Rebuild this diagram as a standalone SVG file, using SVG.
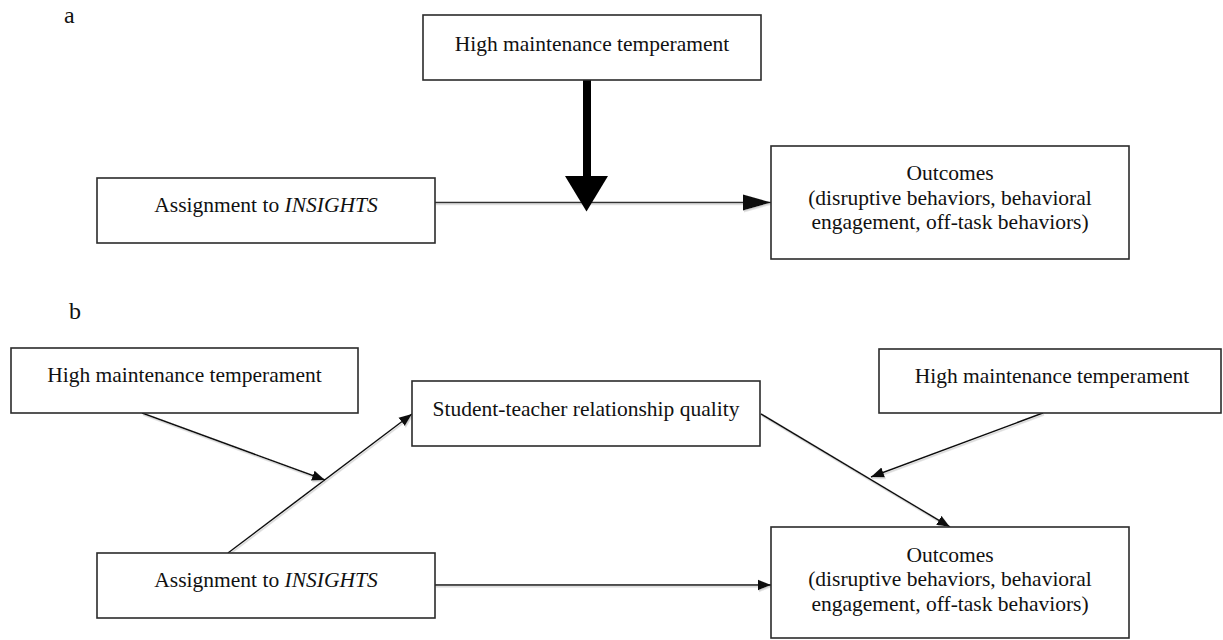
<svg xmlns="http://www.w3.org/2000/svg" width="1223" height="640" viewBox="0 0 1223 640">
<defs>
<style>
.box{fill:#fff;stroke:#2b2b2b;stroke-width:1.6}
.t{font-family:"Liberation Serif","Times New Roman",serif;font-size:21.5px;fill:#111;text-anchor:middle}
.lbl{font-family:"Liberation Serif","Times New Roman",serif;font-size:24px;fill:#111}
.ln{stroke:#111;stroke-width:1.5;fill:none}
.it{font-style:italic}
</style>
<marker id="ah" markerUnits="userSpaceOnUse" markerWidth="14" markerHeight="12" refX="13" refY="6" orient="auto">
<path d="M0,0.8 L13,6 L0,11.2 z" fill="#111"/>
</marker>
<marker id="ahBig" markerUnits="userSpaceOnUse" markerWidth="30" markerHeight="18" refX="28" refY="8.5" orient="auto">
<path d="M0,0.5 L28,8.5 L0,16.5 z" fill="#111"/>
</marker>
<filter id="sh" x="-5%" y="-5%" width="110%" height="120%">
<feDropShadow dx="1" dy="1.6" stdDeviation="0.7" flood-color="#b5b5b5" flood-opacity="0.6"/>
</filter>
</defs>
<rect width="1223" height="640" fill="#fff"/>

<text class="lbl" x="64" y="23">a</text>
<text class="lbl" x="69" y="319">b</text>

<g id="connectors">
<g filter="url(#sh)">
<line class="ln" x1="435" y1="202.5" x2="771" y2="202.5" marker-end="url(#ahBig)" style="stroke:#333;stroke-width:1.3"/>
<line class="ln" x1="142" y1="413" x2="325" y2="480" marker-end="url(#ah)"/>
<line class="ln" x1="228" y1="553" x2="412" y2="414" marker-end="url(#ah)"/>
<line class="ln" x1="761" y1="414" x2="950" y2="527" marker-end="url(#ah)"/>
<line class="ln" x1="1043" y1="413" x2="871" y2="477" marker-end="url(#ah)"/>
<line class="ln" x1="435" y1="585" x2="771" y2="585" marker-end="url(#ah)"/>
</g>
<rect x="583" y="80" width="8" height="97" fill="#000"/>
<polygon points="565,176 608,176 586.5,211.5" fill="#000"/>
</g>

<g id="a-hmt">
<rect class="box" x="423" y="15" width="338" height="65"/>
<text class="t" x="592" y="51">High maintenance temperament</text>
</g>
<g id="a-assign">
<rect class="box" x="97" y="178" width="338" height="65"/>
<text class="t" x="266" y="212">Assignment to <tspan class="it">INSIGHTS</tspan></text>
</g>
<g id="a-outcomes">
<rect class="box" x="771" y="146" width="358" height="113"/>
<text class="t" x="950" y="180">Outcomes</text>
<text class="t" x="950" y="204.5">(disruptive behaviors, behavioral</text>
<text class="t" x="950" y="229">engagement, off-task behaviors)</text>
</g>

<g id="b-hmt-left">
<rect class="box" x="11" y="348" width="347" height="65"/>
<text class="t" x="184.5" y="382">High maintenance temperament</text>
</g>
<g id="b-str">
<rect class="box" x="412" y="381" width="348" height="65"/>
<text class="t" x="586" y="416">Student-teacher relationship quality</text>
</g>
<g id="b-hmt-right">
<rect class="box" x="879" y="349" width="342" height="64"/>
<text class="t" x="1052" y="383">High maintenance temperament</text>
</g>
<g id="b-assign">
<rect class="box" x="97" y="553" width="338" height="65"/>
<text class="t" x="266" y="587">Assignment to <tspan class="it">INSIGHTS</tspan></text>
</g>
<g id="b-outcomes">
<rect class="box" x="771" y="527" width="358" height="111"/>
<text class="t" x="950" y="561.5">Outcomes</text>
<text class="t" x="950" y="586">(disruptive behaviors, behavioral</text>
<text class="t" x="950" y="610.5">engagement, off-task behaviors)</text>
</g>
</svg>
